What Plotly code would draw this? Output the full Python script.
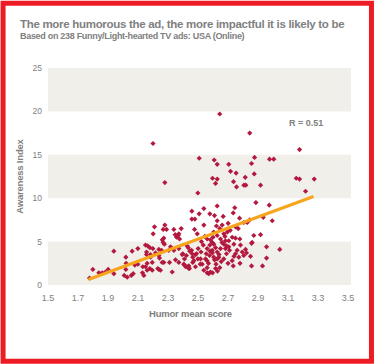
import plotly.graph_objects as go

# ---------------- data ----------------
humor_x = [
    2.200, 2.645, 2.845, 3.177, 2.508, 2.608, 2.628, 2.705, 2.857, 2.877,
    2.977, 3.005, 2.717, 2.754, 2.875, 2.597, 2.628, 2.815, 2.737, 2.617,
    2.806, 2.819, 2.757, 2.917, 3.155, 3.177, 3.275, 3.217, 2.279, 2.499,
    2.886, 2.975, 2.628,
    2.745, 2.735, 2.668, 2.777, 2.935, 2.995, 2.845, 2.828, 2.805, 2.701,
    2.661, 2.750, 2.768, 2.459, 2.539, 2.508, 2.459, 2.479, 2.579, 2.610,
    2.628, 2.539, 2.623, 2.210, 2.279, 2.268, 2.290, 2.339, 2.388, 2.477,
    2.645, 2.605, 2.695,
    2.201, 2.348, 2.372, 2.357, 2.377, 2.368, 2.495, 2.523, 2.561, 2.583,
    2.595, 2.605, 2.579, 2.617, 2.561, 2.595, 2.628, 2.672, 2.683, 2.705,
    2.728, 2.750, 2.779, 2.739, 2.783, 2.861, 2.872, 2.917, 2.957, 3.045,
    2.857, 2.650, 2.628, 2.672, 2.705, 2.683, 2.650, 2.817, 2.761, 2.268,
    2.272, 2.262, 2.276, 2.150, 2.165, 2.179, 2.199, 2.239, 2.317, 2.339,
    2.372, 2.428, 2.501, 2.535, 2.435, 2.457, 2.099, 2.305, 2.257,
    2.217, 2.157, 2.183, 2.239, 2.243, 2.157, 2.061, 1.939, 2.019, 2.099,
    2.132, 2.150, 2.261, 2.272, 2.310, 2.350, 2.372, 2.490, 2.465, 2.499,
    2.465, 2.483, 2.439, 2.410, 2.423, 2.410, 2.399, 2.461, 2.445, 2.395,
    2.483, 2.472, 2.517, 2.555, 2.577, 2.605, 2.628, 2.550, 2.528, 2.561,
    2.195, 2.405, 2.428, 2.515, 2.560, 2.957, 2.850, 2.857, 2.795, 2.750,
    2.772, 2.805, 2.823, 2.639, 2.672, 2.728, 2.610, 2.596, 2.021, 2.079,
    2.183, 2.161, 2.179,
    2.617, 2.645, 2.561, 2.539, 2.597, 2.439, 2.195, 2.161, 2.239, 2.328,
    2.019, 2.068, 2.028, 2.055, 2.008, 1.799, 1.839, 1.861, 1.883, 1.901,
    1.939, 1.777, 2.130, 2.139, 2.232, 2.250, 2.572, 2.583, 2.443, 2.418,
    2.630, 2.930,
    2.660, 2.690, 2.700, 2.640, 2.620, 2.710, 2.580, 2.680, 2.740, 2.655,
    2.545, 2.600, 2.715, 2.780, 2.520, 2.570, 2.690, 2.735,
]
awareness_y = [
    16.3, 19.7, 17.5, 15.6, 14.6, 14.4, 13.9, 13.9, 14.0, 14.7,
    14.5, 14.5, 13.1, 12.9, 12.8, 12.3, 12.2, 12.4, 11.9, 11.7,
    11.5, 11.5, 11.3, 11.5, 12.3, 12.2, 12.2, 10.8, 11.8, 10.6,
    9.5, 9.2, 9.1,
    8.9, 8.3, 7.9, 7.7, 7.8, 7.4, 7.5, 7.2, 7.2, 7.1,
    6.9, 6.7, 6.5, 8.5, 8.8, 8.2, 7.6, 7.6, 8.2, 8.0,
    7.4, 6.9, 6.8, 6.7, 6.9, 6.4, 6.4, 6.4, 6.5, 6.4,
    6.5, 6.1, 6.1,
    5.9, 5.8, 5.9, 5.5, 5.3, 5.7, 5.9, 5.0, 5.3, 5.2,
    4.9, 4.7, 4.6, 4.3, 4.2, 4.0, 3.8, 5.9, 5.1, 5.1,
    5.5, 5.4, 5.3, 4.7, 4.6, 4.9, 5.7, 5.8, 4.4, 4.1,
    4.8, 5.3, 5.7, 4.7, 4.4, 4.2, 4.2, 4.1, 4.0, 4.9,
    5.4, 5.2, 4.7, 4.6, 4.5, 4.3, 4.2, 4.1, 4.4, 4.0,
    4.2, 4.5, 4.2, 4.6, 4.3, 4.0, 4.2, 4.0, 4.0,
    3.7, 3.5, 3.5, 3.4, 3.1, 3.8, 3.9, 3.9, 3.2, 2.4,
    2.1, 2.1, 2.6, 2.6, 2.6, 2.9, 2.6, 3.6, 3.2, 3.0,
    2.6, 2.1, 2.2, 2.3, 3.4, 3.0, 3.6, 3.6, 3.9, 3.5,
    3.5, 2.8, 3.0, 3.6, 3.4, 3.2, 3.0, 3.0, 2.4, 2.0,
    2.6, 2.4, 2.1, 2.4, 2.8, 3.1, 3.3, 2.2, 3.8, 3.6,
    3.2, 3.4, 3.7, 3.2, 3.0, 2.8, 2.9, 3.7, 2.5, 2.3,
    3.2, 2.5, 1.9,
    1.9, 2.0, 1.4, 1.7, 1.4, 1.9, 1.7, 1.7, 1.8, 1.5,
    1.8, 1.3, 0.9, 1.1, 1.1, 1.8, 1.4, 1.4, 1.5, 1.8,
    1.3, 0.8, 1.4, 1.1, 1.9, 1.7, 1.3, 1.5, 1.9, 2.1,
    1.6, 2.2,
    4.9, 3.6, 2.5, 3.5, 2.4, 4.0, 3.9, 5.6, 3.3, 2.7,
    5.6, 5.5, 6.3, 2.5, 3.8, 2.5, 4.5, 2.2,
]
trend_x = [1.77, 3.27]
trend_y = [0.63, 10.2]
x_ticks = [1.5, 1.7, 1.9, 2.1, 2.3, 2.5, 2.7, 2.9, 3.1, 3.3, 3.5]
x_tick_labels = ["1.5", "1.7", "1.9", "2.1", "2.3", "2.5", "2.7", "2.9", "3.1", "3.3", "3.5"]
y_ticks = [0, 5, 10, 15, 20, 25]
bands = [(0, 5), (10, 15), (20, 25)]
r_label = "R = 0.51"
title_text = "The more humorous the ad, the more impactful it is likely to be"
subtitle_text = "Based on 238 Funny/Light-hearted TV ads: USA (Online)"
x_title = "Humor mean score"
y_title = "Awareness Index"

# ---------------- layout geometry ----------------
W, H = 374, 364
L, R_, T, B = 47.5, 23, 67.5, 79
PW = W - L - R_
PH = H - T - B


def px(xp):
    return (xp - L) / PW


def py(yp):
    return (H - B - yp) / PH


def tight(s, ls):
    return '<span style="letter-spacing:%spx">%s</span>' % (ls, s)


GREY = "#808080"
FONT = "Liberation Sans, Arial, sans-serif"

fig = go.Figure()
fig.add_trace(go.Scatter(
    x=humor_x, y=awareness_y, mode="markers",
    marker=dict(symbol="diamond", size=4, color="#B3183F"),
    hoverinfo="skip", showlegend=False))
fig.add_trace(go.Scatter(
    x=trend_x, y=trend_y, mode="lines",
    line=dict(color="#F7A51C", width=3.2),
    hoverinfo="skip", showlegend=False))

shapes = []
for y0, y1 in bands:
    shapes.append(dict(type="rect", xref="paper", yref="y", x0=0, x1=1, y0=y0, y1=y1,
                       fillcolor="#F0EFE9", line=dict(width=0), layer="below"))
shapes.append(dict(type="rect", xref="paper", yref="paper",
                   x0=px(2.5), x1=px(371.5), y0=py(361.5), y1=py(2.5),
                   line=dict(color="#ED1C24", width=5), layer="above"))

annotations = [
    dict(text="<b>" + tight(title_text, -0.3) + "</b>",
         xref="paper", yref="paper", x=px(17), y=py(23), xanchor="left", yanchor="middle",
         showarrow=False, font=dict(family=FONT, size=11.5, color=GREY)),
    dict(text="<b>" + tight(subtitle_text, -0.3) + "</b>",
         xref="paper", yref="paper", x=px(17), y=py(35), xanchor="left", yanchor="middle",
         showarrow=False, font=dict(family=FONT, size=9, color=GREY)),
    dict(text="<b>" + tight(x_title, -0.2) + "</b>", xref="paper", yref="paper",
         x=px(190), y=py(314), xanchor="center", yanchor="middle",
         showarrow=False, font=dict(family=FONT, size=9.5, color=GREY)),
    dict(text="<b>" + tight(y_title, -0.2) + "</b>", xref="paper", yref="paper",
         x=px(19), y=py(176), xanchor="center", yanchor="middle", textangle=-90,
         showarrow=False, font=dict(family=FONT, size=9.5, color=GREY)),
    dict(text="<b>" + r_label + "</b>", xref="paper", yref="paper",
         x=px(306), y=py(123), xanchor="center", yanchor="middle",
         showarrow=False, font=dict(family=FONT, size=9, color=GREY)),
]

fig.update_layout(
    width=W, height=H,
    margin=dict(l=L, r=R_, t=T, b=B, pad=0),
    paper_bgcolor="white", plot_bgcolor="white",
    shapes=shapes, annotations=annotations,
    xaxis=dict(range=[1.5, 3.52], tickvals=x_ticks, ticktext=x_tick_labels,
               showgrid=False, zeroline=False, showline=False, ticks="",
               ticklabelstandoff=6,
               tickfont=dict(family=FONT, size=9, color=GREY)),
    yaxis=dict(range=[0, 25], tickvals=y_ticks,
               showgrid=False, zeroline=False, showline=False, ticks="",
               ticklabelstandoff=5,
               tickfont=dict(family=FONT, size=8.5, color=GREY)),
)

fig.write_html("out.html", config={"displayModeBar": False},
               post_script="document.body.style.margin='0';document.body.style.overflow='hidden';")
